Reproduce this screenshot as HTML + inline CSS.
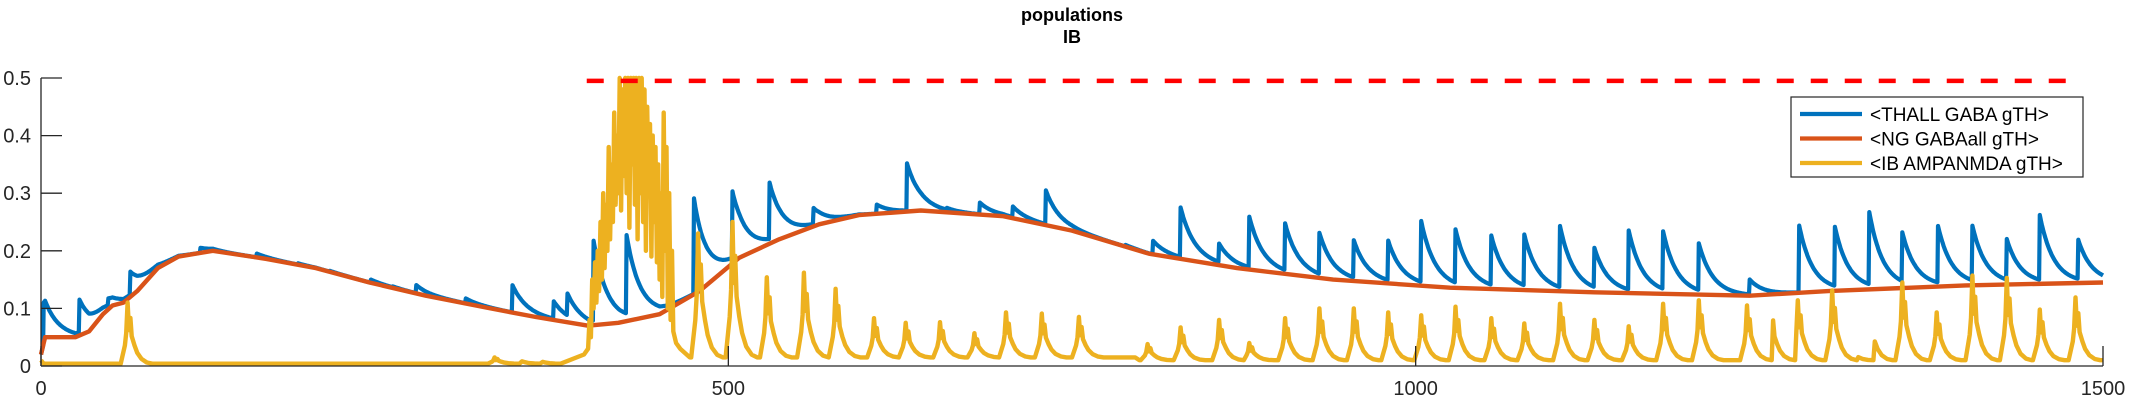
<!DOCTYPE html>
<html><head><meta charset="utf-8"><style>
html,body{margin:0;padding:0;background:#fff;}
svg{display:block;font-family:"Liberation Sans",sans-serif;}
</style></head><body>
<svg id="chart" width="2133" height="400" viewBox="0 0 2133 400">
<g id="plot"></g>
</svg>
<script>
// ---- data ----
const orangeT = [0,3,25,35,45,52,60,70,85,100,125,164,200,239,280,327,360,398,420,450,479,508,537,566,595,640,700,750,806,870,940,1025,1130,1243,1300,1400,1500];
const orangeV = [0.02,0.05,0.05,0.06,0.09,0.105,0.11,0.13,0.17,0.19,0.2,0.186,0.17,0.145,0.122,0.1,0.085,0.07,0.075,0.09,0.13,0.188,0.22,0.246,0.262,0.27,0.26,0.235,0.195,0.17,0.15,0.136,0.128,0.122,0.13,0.14,0.145];
const blueSpikeT = [2,28,49,65,116,157,187,210,240,256,273,309,343,373,383,402,426,475,503,530,562,608,630,659,683,707,731,770,789,809,829,857,879,905,930,955,980,1004,1029,1055,1079,1105,1130,1155,1180,1206,1243,1279,1305,1330,1354,1380,1405,1430,1454,1482];
const blueSpikeV = [0.11,0.11,0.11,0.16,0.205,0.195,0.178,0.165,0.15,0.137,0.14,0.117,0.14,0.11,0.114,0.21,0.214,0.29,0.293,0.31,0.27,0.28,0.35,0.27,0.283,0.275,0.303,0.215,0.21,0.217,0.272,0.207,0.255,0.241,0.224,0.212,0.212,0.245,0.228,0.219,0.22,0.236,0.196,0.229,0.225,0.205,0.148,0.243,0.233,0.258,0.22,0.236,0.235,0.212,0.255,0.212];
const yellowPeakT = [63,330,345,360,478,503,528,555,578,606,629,654,679,702,728,755,778,805,829,857,879,905,930,955,980,1004,1029,1055,1079,1105,1130,1155,1180,1206,1241,1258,1278,1303,1315,1329,1354,1379,1405,1430,1454,1480];
const yellowPeakV = [0.11,0.015,0.018,0.015,0.23,0.25,0.154,0.162,0.134,0.083,0.075,0.076,0.057,0.093,0.091,0.085,0.015,0.038,0.067,0.08,0.04,0.083,0.1,0.1,0.093,0.088,0.103,0.083,0.074,0.108,0.08,0.069,0.108,0.114,0.105,0.102,0.114,0.131,0.04,0.119,0.145,0.093,0.157,0.153,0.098,0.119];
const burstT = [395,398,399,400,401,402,403,404,405,406,407,408,409,410,411,412,413,414,415,416,417,418,419,420,421,422,423,424,425,426,427,428,429,430,431,432,433,434,435,436,437,438,439,440,441,442,443,444,445,446,447,448,449,450,451,452,453,454,455,456,457,458,459,460,462,465];
const burstV = [0.02,0.03,0.08,0.05,0.15,0.1,0.18,0.11,0.2,0.13,0.25,0.15,0.3,0.17,0.28,0.2,0.38,0.22,0.35,0.25,0.44,0.28,0.4,0.3,0.5,0.27,0.48,0.33,0.5,0.3,0.5,0.24,0.5,0.35,0.5,0.28,0.5,0.22,0.5,0.3,0.5,0.25,0.48,0.2,0.45,0.3,0.42,0.19,0.4,0.25,0.38,0.18,0.35,0.15,0.3,0.12,0.44,0.2,0.38,0.1,0.3,0.08,0.2,0.06,0.04,0.03];
const xTicks = [0,500,1000,1500];
const yTicks = [0,0.1,0.2,0.3,0.4,0.5];
const threshold = 0.495;
const seriesNames = ["<THALL GABA gTH>","<NG GABAall gTH>","<IB AMPANMDA gTH>"];

// ---- axes ----
const X0=41, X1=2103, Y0=366, Y1=78;
const sx = t => X0 + (t/1500)*(X1-X0);
const sy = v => Y0 - (v/0.5)*(Y0-Y1);
const NS="http://www.w3.org/2000/svg";
const plot=document.getElementById('plot');
function mk(tag,attrs,parent){const e=document.createElementNS(NS,tag);for(const k in attrs)e.setAttribute(k,attrs[k]);(parent||plot).appendChild(e);return e;}
function orangeAt(t){
  if(t<=orangeT[0])return orangeV[0];
  for(let i=1;i<orangeT.length;i++){if(t<=orangeT[i]){const f=(t-orangeT[i-1])/(orangeT[i]-orangeT[i-1]);return orangeV[i-1]+f*(orangeV[i]-orangeV[i-1]);}}
  return orangeV[orangeV.length-1];
}
const pts=a=>a.map(p=>sx(p[0]).toFixed(1)+','+sy(p[1]).toFixed(1)).join(' ');

// blue
let bl=[];
for(let t=0;t<=1500;t+=0.5){
  let v=orangeAt(t);
  for(let k=0;k<blueSpikeT.length;k++){const d=t-blueSpikeT[k];if(d>=0&&d<70){const amp=blueSpikeV[k]-orangeAt(blueSpikeT[k]);v+=Math.max(0,amp)*Math.exp(-d/10);}}
  bl.push([t,v]);
}
const blue=mk('polyline',{points:pts(bl),fill:'none',stroke:'#0072BD','stroke-width':4.2,'stroke-linejoin':'round'});


// orange
const orange=mk('polyline',{points:pts(orangeT.map((t,i)=>[t,orangeV[i]])),fill:'none',stroke:'#D95319','stroke-width':4.4,'stroke-linejoin':'round'});


// yellow
let yl=[[0,0.01],[2,0.004]];
const yb=t=>t<400?0.004:(t<800?0.015:0.01);
const shape=[[-5,0],[-2,0.3],[-1,0.5],[0,1],[1,0.55],[2,0.75],[3,0.45],[5,0.3],[7,0.18],[10,0.08],[14,0.02],[18,0]];
let events=yellowPeakT.map((t,i)=>[t,yellowPeakV[i]]).sort((a,b)=>a[0]-b[0]);
let cur=2;
for(const [pt,pv] of events){
  yl.push([Math.max(cur,pt-6),yb(pt)]);
  for(const s of shape){const t=pt+s[0];if(t>cur){yl.push([t,yb(t)+s[1]*(pv-yb(pt))]);}}
  cur=pt+18;
  if(pt>=330&&pt<395&&cur>=390)cur=390;
}
yl=yl.filter(p=>p[0]<395||p[0]>465);
let idx=yl.findIndex(p=>p[0]>465);
const bp=burstT.map((t,i)=>[t,burstV[i]]);
yl.splice(idx,0,...bp);
yl.push([1500,0.01]);
const yellow=mk('polyline',{points:pts(yl),fill:'none',stroke:'#EDB120','stroke-width':4.4,'stroke-linejoin':'round'});


// threshold
const th=mk('line',{x1:sx(397),x2:sx(1485),y1:sy(threshold),y2:sy(threshold),stroke:'#FF0000','stroke-width':4.5,'stroke-dasharray':'17 17'});



// axes lines
const ya=mk('line',{x1:X0,x2:X0,y1:Y1,y2:Y0,stroke:'#262626','stroke-width':1.3});


const xa=mk('line',{x1:X0,x2:X1,y1:Y0,y2:Y0,stroke:'#262626','stroke-width':1.3});


for(const v of yTicks){
  const tk=mk('line',{x1:X0,x2:X0+21,y1:sy(v),y2:sy(v),stroke:'#262626','stroke-width':1.3});
  
  
  const lb=mk('text',{x:31,y:sy(v)+7,'text-anchor':'end','font-size':20,fill:'#262626'});
  lb.textContent=String(v);
  
  
}
for(const t of xTicks){
  const tk=mk('line',{x1:sx(t),x2:sx(t),y1:Y0,y2:Y0-20,stroke:'#262626','stroke-width':1.3});
  
  
  const lb=mk('text',{x:sx(t),y:395,'text-anchor':'middle','font-size':20,fill:'#262626'});
  lb.textContent=String(t);
  
  
}
// title
const t1=mk('text',{x:1072,y:21,'text-anchor':'middle','font-size':18,'font-weight':'bold',fill:'#000'});
t1.textContent='populations';


const t2=mk('text',{x:1072,y:43,'text-anchor':'middle','font-size':18,'font-weight':'bold',fill:'#000'});
t2.textContent='IB';


// legend
const lg=mk('g',{});


mk('rect',{x:1791,y:97,width:292,height:80,fill:'#fff',stroke:'#262626','stroke-width':1.2},lg);
const cols=['#0072BD','#D95319','#EDB120'];
seriesNames.forEach((n,i)=>{
  const y=114+i*24.5;
  const e=mk('g',{},lg);
  
  
  mk('line',{x1:1800,x2:1862,y1:y,y2:y,stroke:cols[i],'stroke-width':4.2},e);
  const tx=mk('text',{x:1870,y:y+7,'font-size':19,fill:'#000'},e);
  tx.textContent=n;
});
</script>
</body></html>
